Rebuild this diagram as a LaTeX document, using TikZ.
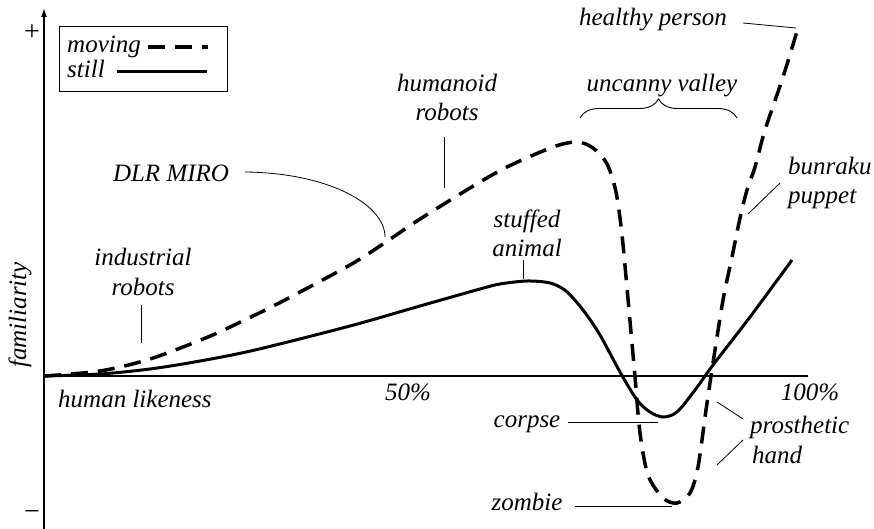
\documentclass[tikz,border=0pt]{standalone}
\usepackage{fontspec}
\setmainfont{Liberation Serif}
\usetikzlibrary{arrows.meta,decorations.pathreplacing}
\begin{document}
\begin{tikzpicture}[x=1pt,y=-1pt,
  lbl/.style={font=\fontsize{25}{29}\selectfont\itshape, inner sep=0pt},
  sgn/.style={font=\fontsize{28}{32}\selectfont, inner sep=0pt},
  ptr/.style={line width=0.8pt},
  axisline/.style={line width=1.5pt},
  movingc/.style={line width=3.5pt, dash pattern=on 17pt off 10pt},
  stillc/.style={line width=3pt},
]
\useasboundingbox (0,0) rectangle (874,529);
% axes
\coordinate (O) at (44,376);
\coordinate (ybot) at (44,529);
\coordinate (ytop) at (44,8);
\coordinate (xend) at (808,376);
\draw[axisline,-{Latex[length=9pt,width=6pt]}] (ybot) -- (ytop);
\draw[axisline] (O) -- (xend);
\node[sgn] (plus) at (32,33) {+};
\node[sgn] (minus) at (32,515) {−};
\node[lbl,rotate=90] (fam) at (20,315) {familiarity};
\node[lbl,anchor=base west] (hl) at (58,407) {human likeness};
\node[lbl,anchor=base] (p50) at (408,400) {50\%};
\node[lbl,anchor=base] (p100) at (810,400) {100\%};
% legend
\node[draw,line width=1pt,minimum width=168pt,minimum height=65pt,inner sep=0pt] (leg) at (143,59.5) {};
\node[lbl,anchor=base west] (lmov) at (67,53) {moving};
\node[lbl,anchor=base west] (lsti) at (67,78) {still};
\coordinate (lmA) at (148,47);
\coordinate (lmB) at (208,47);
\coordinate (lsA) at (117,72);
\coordinate (lsB) at (207,72);
\draw[movingc] (lmA) -- (lmB);
\draw[stillc] (lsA) -- (lsB);
% curves
\draw[movingc] plot[smooth,tension=0.5] coordinates {
 (44,376) (100,371) (150,359) (208,337) (253,316) (283,301) (350,265)
 (383,244) (417,221) (470,188) (507,167) (553,147) (577,142) (593,148)
 (607,164) (616,192) (622,235) (629,310) (635,377) (640,433) (648,475)
 (663,498) (677,503) (690,493) (698,467) (706,410) (713,363) (723,300)
 (732,257) (740,218) (747,190) (755,167) (765,130) (783,77) (798,28)};
\draw[stillc] plot[smooth,tension=0.5] coordinates {
 (44,376) (100,374) (150,369) (200,361) (255,350) (350,326) (420,306)
 (480,289) (500,284) (527,281) (550,283) (566,291) (583,310) (600,335)
 (620,372) (637,400) (650,412) (663,417) (677,412) (695,390) (713,365)
 (750,317) (792,260)};
% labels
\node[lbl,anchor=base] (hp) at (653,26) {healthy person};
\coordinate (hpA) at (743,23); \coordinate (hpB) at (796,28);
\draw[ptr] (hpA) -- (hpB);
\node[lbl,anchor=base] (uv) at (662,92) {uncanny valley};
\coordinate (brA) at (580,118); \coordinate (brB) at (737,118);
\draw[line width=0.9pt,decorate,decoration={brace,amplitude=19pt}] (brA) -- (brB);
\node[lbl,anchor=base] (hr1) at (447,92) {humanoid};
\node[lbl,anchor=base] (hr2) at (447,121) {robots};
\coordinate (hrA) at (444,137); \coordinate (hrB) at (444,188);
\draw[ptr] (hrA) -- (hrB);
\node[lbl,anchor=base] (dlr) at (171,182) {DLR MIRO};
\coordinate (dlA) at (245,172); \coordinate (dlB) at (385,237);
\draw[ptr] (dlA) .. controls (330,173) and (385,205) .. (dlB);
\node[lbl,anchor=base] (ir1) at (143,265) {industrial};
\node[lbl,anchor=base] (ir2) at (143,295) {robots};
\coordinate (irA) at (141,305); \coordinate (irB) at (141,343);
\draw[ptr] (irA) -- (irB);
\node[lbl,anchor=base] (sa1) at (527,227) {stuffed};
\node[lbl,anchor=base] (sa2) at (527,256) {animal};
\coordinate (saA) at (523,260); \coordinate (saB) at (523,279);
\draw[ptr] (saA) -- (saB);
\node[lbl,anchor=base west] (bp1) at (788,175) {bunraku};
\node[lbl,anchor=base west] (bp2) at (788,204) {puppet};
\coordinate (bpA) at (780,183); \coordinate (bpB) at (748,214);
\draw[ptr] (bpA) -- (bpB);
\node[lbl,anchor=base] (co) at (527,427) {corpse};
\coordinate (coA) at (568,422); \coordinate (coB) at (658,422);
\draw[ptr] (coA) -- (coB);
\node[lbl,anchor=base] (zo) at (527,510) {zombie};
\coordinate (zoA) at (575,506); \coordinate (zoB) at (672,506);
\draw[ptr] (zoA) -- (zoB);
\node[lbl,anchor=base west] (ph1) at (750,433) {prosthetic};
\node[lbl,anchor=base west] (ph2) at (752,463) {hand};
\coordinate (phA) at (717,402); \coordinate (phB) at (743,419);
\coordinate (phC) at (743,440); \coordinate (phD) at (717,465);
\draw[ptr] (phA) -- (phB);
\draw[ptr] (phC) -- (phD);
\end{tikzpicture}
\end{document}
